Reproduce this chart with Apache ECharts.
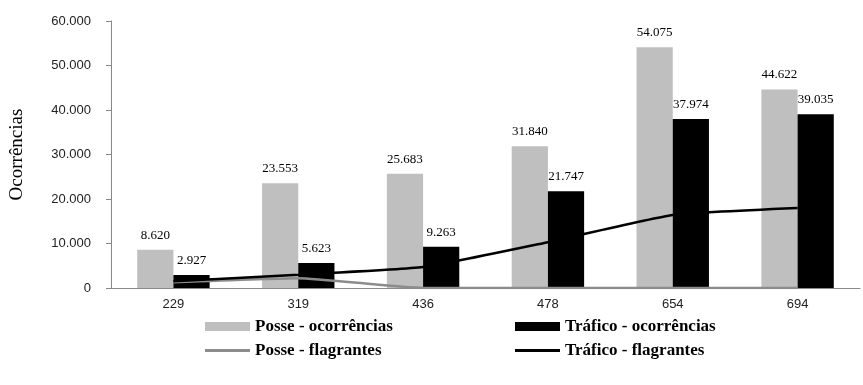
<!DOCTYPE html>
<html>
<head>
    <meta charset="UTF-8">
    <title>Ocorrências e flagrantes</title>
    <style>
        html, body {
            margin: 0;
            padding: 0;
            width: 100%;
            height: 100%;
            overflow: hidden;
            background: #fff;
        }
        #main {
            width: 863px;
            height: 385px;
        }
    </style>
    <script src="https://cdn.jsdelivr.net/npm/echarts@6/dist/echarts.min.js"></script>
</head>
<body>
    <div id="main"></div>

    <script>
        // categorias do eixo x
        const categories = ['229', '319', '436', '478', '654', '694'];

        // barras
        const posseOcorrencias = [8620, 23553, 25683, 31840, 54075, 44622];
        const traficoOcorrencias = [2927, 5623, 9263, 21747, 37974, 39035];

        // linhas
        const posseFlagrantes = [1300, 2200, 0, 0, 0, 0];
        const traficoFlagrantes = [1500, 3000, 4700, 10300, 16400, 18000];

        function fmt(v) {
            return String(v).replace(/\B(?=(\d{3})+(?!\d))/g, '.');
        }

        const serif = "'Liberation Serif', 'DejaVu Serif', serif";
        const sans = "'Liberation Sans', 'DejaVu Sans', sans-serif";
        const lineIcon = 'path://M0,0 L46,0 L46,3 L0,3 Z';

        const chart = echarts.init(document.getElementById('main'));

        const barLabel = {
            show: true,
            position: 'top',
            distance: 8,
            fontFamily: serif,
            fontSize: 13,
            color: '#000',
            formatter: p => fmt(p.value)
        };

        const legendText = {
            fontFamily: serif,
            fontSize: 17,
            fontWeight: 'bold',
            color: '#000'
        };

        chart.setOption({
            animation: false,
            grid: { left: 110, right: 3, top: 21, bottom: 97 },
            legend: [
                {
                    left: 205, top: 318, orient: 'vertical', padding: 0,
                    itemWidth: 45, itemHeight: 9, itemGap: 7,
                    textStyle: legendText,
                    data: [
                        { name: 'Posse - ocorrências', icon: 'rect' },
                        { name: 'Posse - flagrantes', icon: lineIcon }
                    ]
                },
                {
                    left: 515, top: 318, orient: 'vertical', padding: 0,
                    itemWidth: 45, itemHeight: 9, itemGap: 7,
                    textStyle: legendText,
                    data: [
                        { name: 'Tráfico - ocorrências', icon: 'rect' },
                        { name: 'Tráfico - flagrantes', icon: lineIcon }
                    ]
                }
            ],
            xAxis: {
                type: 'category',
                data: categories,
                axisLine: { lineStyle: { color: '#888' } },
                axisTick: { length: 5, lineStyle: { color: '#888' } },
                axisLabel: { fontFamily: sans, fontSize: 13, color: '#222', margin: 10 }
            },
            yAxis: {
                type: 'value',
                min: 0, max: 60000, interval: 10000,
                name: 'Ocorrências',
                nameLocation: 'middle',
                nameGap: 84,
                nameTextStyle: { fontFamily: serif, fontSize: 19, color: '#000' },
                splitLine: { show: false },
                axisLine: { show: true, lineStyle: { color: '#888' } },
                axisTick: { show: true, length: 5, lineStyle: { color: '#888' } },
                axisLabel: {
                    fontFamily: sans, fontSize: 13, color: '#222', margin: 20,
                    formatter: v => fmt(v)
                }
            },
            series: [
                {
                    name: 'Posse - ocorrências',
                    type: 'bar',
                    data: posseOcorrencias,
                    barGap: '0%',
                    barCategoryGap: '42%',
                    itemStyle: { color: '#bfbfbf' },
                    label: barLabel
                },
                {
                    name: 'Tráfico - ocorrências',
                    type: 'bar',
                    data: traficoOcorrencias,
                    itemStyle: { color: '#000' },
                    label: barLabel
                },
                {
                    name: 'Posse - flagrantes',
                    type: 'line',
                    data: posseFlagrantes,
                    smooth: 0.15,
                    symbol: 'none',
                    lineStyle: { color: '#8c8c8c', width: 2.5 },
                    itemStyle: { color: '#8c8c8c' }
                },
                {
                    name: 'Tráfico - flagrantes',
                    type: 'line',
                    data: traficoFlagrantes,
                    smooth: 0.15,
                    symbol: 'none',
                    lineStyle: { color: '#000', width: 2.5 },
                    itemStyle: { color: '#000' }
                }
            ]
        });
    </script>
</body>
</html>
